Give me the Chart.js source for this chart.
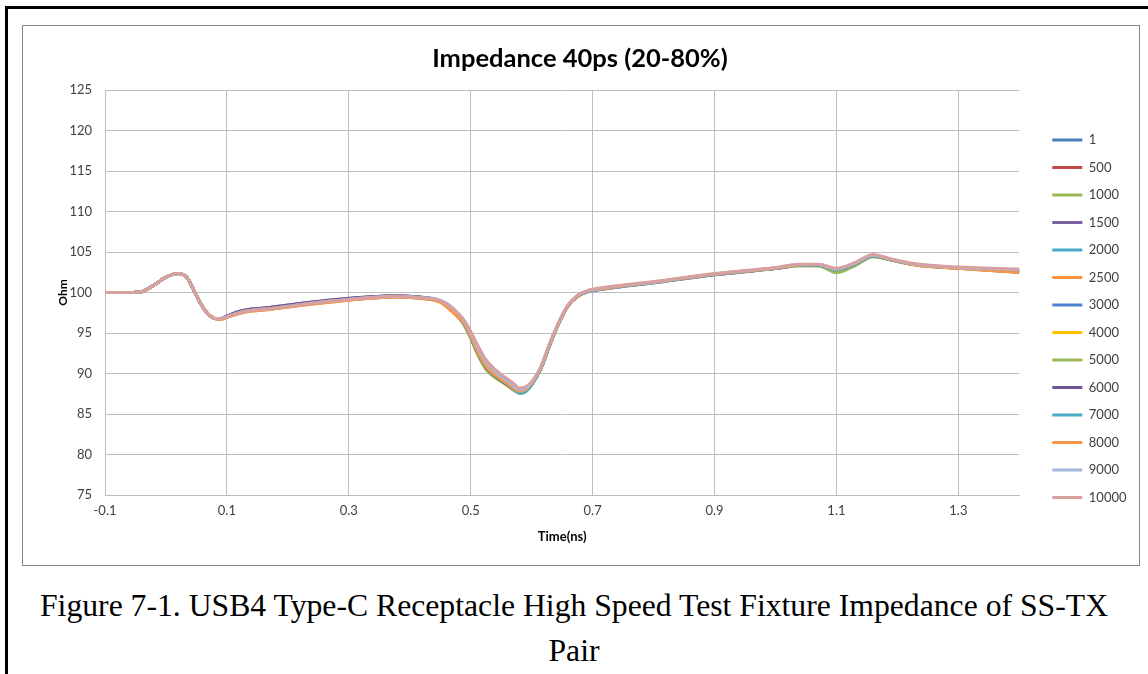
<!DOCTYPE html>
<html><head><meta charset="utf-8">
<script src="https://cdn.jsdelivr.net/npm/chart.js@4.4.1/dist/chart.umd.min.js"></script>
<style>
html,body{margin:0;padding:0;background:#fff;width:1148px;height:674px;overflow:hidden;position:relative}
#outer{position:absolute;left:5px;top:6px;width:1200px;height:700px;border-top:3px solid #000;border-left:3px solid #000}
#frame{position:absolute;left:22px;top:25px;width:1116px;height:539px;border:1px solid #868686;background:#fff}
#frame canvas{display:block}
#cap{position:absolute;left:0;top:583px;width:1148px;text-align:center;font-family:'Liberation Serif','Times New Roman',serif;font-size:31.7px;line-height:45px;color:#000;white-space:nowrap}
</style></head><body>
<div id="outer"></div>
<div id="frame"><canvas id="c" width="1116" height="539"></canvas></div>
<div id="cap">Figure 7-1. USB4 Type-C Receptacle High Speed Test Fixture Impedance of SS-TX<br>Pair</div>
<script>
// ---- data ----
const timeNs = [-0.1,-0.06,-0.04,-0.02,0.0,0.02,0.035,0.05,0.065,0.08,0.09,0.1,0.12,0.14,0.17,0.22,0.28,0.33,0.38,0.42,0.45,0.47,
  0.49,0.5,0.51,0.525,0.54,0.555,0.57,0.58,0.59,0.6,
  0.615,0.63,0.645,0.66,0.675,0.69,0.72,0.8,0.9,1.0,
  1.04,1.07,1.1,1.13,1.16,1.19,1.23,1.3,1.4];

const seriesNames = ['1','500','1000','1500','2000','2500','3000','4000','5000','6000','7000','8000','9000','10000'];
const seriesColors = ['#4A7EBB','#BE4B48','#98B954','#7D60A0','#46AAC5','#F69240','#4F81D0','#FFC000','#9BBB59','#6F5596','#4BACC6','#F79646','#A5B8DC','#D9A0A0'];

const s1 = [100.0,100.0,100.1,100.9,101.9,102.35,101.8,99.6,97.7,96.8,96.75,97.0,97.5,97.8,98.0,98.5,99.0,99.35,99.55,99.35,98.95,97.9,
  96.1,94.7,93.0,90.9,89.7,88.9,88.1,87.65,87.85,88.7,
  90.6,93.6,96.3,98.4,99.5,100.05,100.45,101.2,102.2,102.95,
  103.35,103.4,102.8,103.5,104.5,104.05,103.45,103.05,102.65];
const s500 = [100.0,100.0,100.1,100.9,101.9,102.35,101.8,99.6,97.7,96.8,96.75,97.0,97.5,97.8,98.0,98.5,99.0,99.3,99.5,99.3,98.9,97.8,
  96.0,94.5,92.8,90.7,89.6,88.8,88.0,87.6,87.8,88.7,
  90.6,93.6,96.3,98.4,99.5,100.1,100.5,101.25,102.25,103.0,
  103.4,103.4,102.8,103.5,104.5,104.0,103.4,103.0,102.5];
const s1000 = [100.0,100.0,100.1,100.9,101.9,102.35,101.8,99.6,97.7,96.8,96.75,97.0,97.5,97.8,98.0,98.5,99.0,99.35,99.55,99.35,98.95,97.9,
  95.9,94.4,92.6,90.5,89.5,88.8,88.0,87.6,87.8,88.6,
  90.6,93.6,96.3,98.4,99.5,100.1,100.5,101.25,102.25,103.0,
  103.3,103.3,102.45,103.3,104.4,104.0,103.45,103.05,102.65];
const s1500 = [100.0,100.0,100.1,100.9,101.9,102.35,101.8,99.6,97.7,96.8,96.8,97.1,97.65,97.95,98.15,98.65,99.15,99.45,99.6,99.4,98.95,97.9,
  96.1,94.6,92.9,90.8,89.8,89.0,88.2,87.7,87.9,88.7,
  90.7,93.7,96.3,98.4,99.55,100.1,100.5,101.25,102.25,103.0,
  103.4,103.4,102.8,103.5,104.5,104.05,103.45,103.05,102.65];
const s2000 = [100.0,100.0,100.1,100.9,101.9,102.35,101.8,99.6,97.7,96.8,96.75,97.0,97.5,97.8,98.0,98.5,99.0,99.35,99.55,99.35,98.95,97.9,
  96.0,94.6,92.9,90.9,89.8,89.0,88.1,87.6,87.8,88.7,
  90.6,93.6,96.3,98.4,99.5,100.05,100.5,101.25,102.25,103.0,
  103.4,103.4,102.8,103.5,104.5,104.05,103.45,103.05,102.65];
const s2500 = [100.0,100.0,100.1,100.9,101.9,102.35,101.8,99.6,97.7,96.8,96.7,96.95,97.4,97.7,97.9,98.4,98.9,99.25,99.45,99.25,98.8,97.6,
  96.0,94.5,92.8,90.8,89.6,88.9,88.1,87.7,87.9,88.7,
  90.6,93.6,96.3,98.4,99.5,100.1,100.5,101.25,102.25,103.0,
  103.4,103.45,102.9,103.6,104.6,104.05,103.4,103.0,102.5];
const s3000 = [100.0,100.0,100.1,100.9,101.9,102.35,101.8,99.6,97.7,96.8,96.75,97.0,97.5,97.8,98.0,98.5,99.0,99.35,99.55,99.35,98.95,97.9,
  96.1,94.7,93.0,91.0,89.8,89.0,88.2,87.7,87.9,88.7,
  90.6,93.6,96.3,98.4,99.5,100.05,100.45,101.2,102.2,102.95,
  103.35,103.4,102.8,103.5,104.5,104.05,103.45,103.05,102.65];
const s4000 = [100.0,100.0,100.1,100.9,101.9,102.35,101.8,99.6,97.7,96.8,96.75,97.0,97.5,97.8,98.0,98.5,99.0,99.35,99.55,99.35,98.9,97.8,
  96.3,94.9,93.3,91.3,90.1,89.3,88.4,87.9,88.05,88.9,
  90.7,93.7,96.3,98.4,99.5,100.1,100.5,101.25,102.25,103.0,
  103.4,103.4,102.75,103.45,104.5,104.05,103.45,103.0,102.6];
const s5000 = [100.0,100.0,100.1,100.9,101.9,102.35,101.8,99.6,97.7,96.8,96.75,97.0,97.5,97.8,98.0,98.5,99.0,99.35,99.55,99.35,98.95,97.9,
  95.9,94.4,92.6,90.6,89.5,88.8,88.0,87.6,87.8,88.6,
  90.6,93.6,96.3,98.4,99.5,100.1,100.5,101.25,102.25,103.0,
  103.3,103.3,102.5,103.35,104.45,104.0,103.45,103.05,102.65];
const s6000 = [100.0,100.0,100.1,100.9,101.9,102.35,101.8,99.6,97.7,96.8,96.8,97.1,97.65,97.95,98.15,98.65,99.15,99.45,99.6,99.4,98.95,97.9,
  96.0,94.5,92.8,90.8,89.7,88.9,88.1,87.7,87.9,88.7,
  90.7,93.7,96.3,98.4,99.55,100.1,100.5,101.25,102.25,103.0,
  103.4,103.4,102.8,103.5,104.5,104.05,103.45,103.05,102.65];
const s7000 = [100.0,100.0,100.1,100.9,101.9,102.35,101.8,99.6,97.7,96.8,96.75,97.0,97.5,97.8,98.0,98.5,99.0,99.35,99.55,99.35,98.95,97.9,
  96.0,94.6,92.9,90.9,89.8,89.0,88.1,87.55,87.75,88.6,
  90.6,93.6,96.3,98.4,99.5,100.05,100.5,101.25,102.25,103.0,
  103.4,103.4,102.8,103.5,104.5,104.05,103.45,103.05,102.65];
const s8000 = [100.0,100.0,100.1,100.9,101.9,102.35,101.8,99.6,97.7,96.8,96.7,96.95,97.4,97.7,97.9,98.4,98.9,99.25,99.45,99.25,98.8,97.6,
  96.1,94.6,92.9,90.9,89.8,89.0,88.2,87.8,88.0,88.8,
  90.7,93.7,96.3,98.4,99.5,100.1,100.5,101.25,102.25,103.0,
  103.4,103.45,102.9,103.6,104.6,104.05,103.4,103.0,102.5];
const s9000 = [100.0,100.0,100.1,100.9,101.9,102.35,101.8,99.6,97.7,96.8,96.75,97.0,97.5,97.8,98.0,98.5,99.0,99.35,99.55,99.35,99.05,98.15,
  96.4,95.0,93.4,91.4,90.2,89.3,88.5,88.0,88.15,88.9,
  90.8,93.8,96.4,98.5,99.6,100.15,100.6,101.3,102.3,103.05,
  103.45,103.45,102.9,103.6,104.6,104.1,103.5,103.1,102.8];
const s10000 = [100.0,100.0,100.1,100.9,101.9,102.35,101.8,99.6,97.7,96.8,96.75,97.0,97.5,97.8,98.0,98.5,99.0,99.35,99.55,99.35,99.0,98.0,
  96.5,95.2,93.7,91.7,90.5,89.6,88.8,88.2,88.35,89.0,
  90.8,93.8,96.4,98.5,99.65,100.2,100.65,101.35,102.35,103.1,
  103.5,103.5,103.0,103.7,104.7,104.15,103.55,103.15,102.9];

const seriesValues = [s1,s500,s1000,s1500,s2000,s2500,s3000,s4000,s5000,s6000,s7000,s8000,s9000,s10000];

const xTickValues = [-0.1,0.1,0.3,0.5,0.7,0.9,1.1,1.3];
const xTickLabels = ['-0.1','0.1','0.3','0.5','0.7','0.9','1.1','1.3'];
const yMin = 75, yMax = 125, yStep = 5;
const xMin = -0.1, xMax = 1.4;

// ---- chart ----
const FONT = "Lato, 'Open Sans', sans-serif";
const n = seriesNames.length;
const datasets = seriesNames.map((name, i) => ({
  label: name,
  data: timeNs.map((t, k) => ({x: t, y: seriesValues[i][k]})),
  borderColor: seriesColors[i],
  backgroundColor: seriesColors[i],
  borderWidth: 3,
  pointRadius: 0,
  pointHoverRadius: 0,
  fill: false,
  cubicInterpolationMode: 'monotone',
  order: n - 1 - i
}));

const LEGEND_DX = 18.5, LEGEND_DY = 93;
const legendShift = {
  id: 'legendShift',
  afterLayout(chart) {
    const L = chart.legend;
    if (!L) return;
    L.left += LEGEND_DX; L.right += LEGEND_DX;
    L.top += LEGEND_DY; L.bottom += LEGEND_DY;
  }
};

new Chart(document.getElementById('c'), {
  type: 'line',
  data: { datasets },
  plugins: [legendShift],
  options: {
    responsive: false,
    animation: false,
    devicePixelRatio: 1,
    events: [],
    layout: { padding: { left: 19, right: 21, top: 0, bottom: 0 } },
    plugins: {
      title: {
        display: true,
        text: 'Impedance 40ps (20-80%)',
        font: { family: FONT, size: 25.5, weight: 'bold' },
        color: '#000',
        padding: { top: 17, bottom: 16.4 }
      },
      legend: {
        position: 'right',
        align: 'start',
        labels: {
          boxWidth: 30,
          boxHeight: 3,
          padding: 14.5,
          font: { family: FONT, size: 13 },
          color: '#404040',
          generateLabels: (chart) => Chart.defaults.plugins.legend.labels.generateLabels(chart).map(l => Object.assign({}, l, { lineWidth: 0 })),
          sort: (a, b) => a.datasetIndex - b.datasetIndex
        }
      },
      tooltip: { enabled: false }
    },
    scales: {
      x: {
        type: 'linear',
        min: xMin, max: xMax,
        afterBuildTicks: (s) => { s.ticks = xTickValues.map(v => ({ value: v })); },
        afterFit: (s) => { s.height = 70; },
        ticks: {
          autoSkip: false, maxRotation: 0,
          callback: (v, i) => xTickLabels[i],
          font: { family: FONT, size: 13 }, color: '#404040', padding: 8
        },
        grid: { color: '#bdbdbd', lineWidth: 1, drawTicks: false },
        border: { color: '#bdbdbd' },
        title: { display: true, text: 'Time(ns)', font: { family: FONT, size: 13, weight: 'bold' }, color: '#000', padding: { top: 4, bottom: 20 } }
      },
      y: {
        min: yMin, max: yMax,
        afterFit: (s) => { s.width = 63; },
        ticks: { stepSize: yStep, font: { family: FONT, size: 13 }, color: '#404040', padding: 13 },
        grid: { color: '#bdbdbd', lineWidth: 1, drawTicks: false },
        border: { color: '#bdbdbd' },
        title: { display: true, text: 'Ohm', font: { family: FONT, size: 12, weight: 'bold' }, color: '#000', padding: { top: 14, bottom: 0 } }
      }
    }
  }
});
</script>
</body></html>
